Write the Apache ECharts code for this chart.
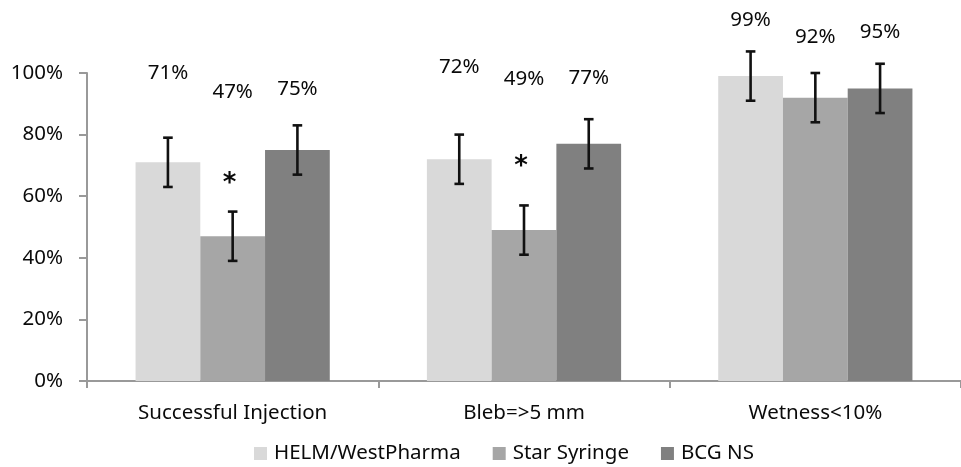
<!DOCTYPE html>
<html>
<head>
<meta charset="utf-8">
<script src="https://cdn.jsdelivr.net/npm/echarts@6/dist/echarts.min.js"></script>
<style>
  html, body { margin: 0; padding: 0; background: #ffffff; }
  #chart { width: 961px; height: 467px; }
</style>
</head>
<body>
<div id="chart"></div>
<script>
// ---- data ----
const categories = ['Successful Injection', 'Bleb=>5 mm', 'Wetness<10%'];
const seriesNames = ['HELM/WestPharma', 'Star Syringe', 'BCG NS'];
const helmValues = [0.71, 0.72, 0.99];
const starValues = [0.47, 0.49, 0.92];
const bcgValues = [0.75, 0.77, 0.95];
const helmErrors = [0.08, 0.08, 0.08];
const starErrors = [0.08, 0.08, 0.08];
const bcgErrors = [0.08, 0.08, 0.08];
const starSignificant = [true, true, false];
const yTickValues = [0, 0.2, 0.4, 0.6, 0.8, 1.0];

// ---- layout ----
// axis level (in value units) where each percentage caption is centred
const captionLevels = [
  [1.000, 1.019, 1.172],
  [0.938, 0.980, 1.117],
  [0.948, 0.984, 1.134]
];
// axis level of the significance asterisk above the Star Syringe bars
const asteriskLevels = [0.660, 0.716, null];
const CATEGORY_GAP = 1 / 3;
const FONT = '"Noto Sans", "Open Sans", sans-serif';
const FONT_SIZE = 20.5;
const TEXT_COLOR = '#0a0a0a';
const AXIS_COLOR = '#999999';
const barColors = ['#d9d9d9', '#a6a6a6', '#808080'];

const valueSets = [helmValues, starValues, bcgValues];
const errorSets = [helmErrors, starErrors, bcgErrors];

function fmtPct(v) { return Math.round(v * 100) + '%'; }

function overlayRenderer(seriesIdx) {
  return function (params, api) {
    const cat = api.value(0);
    const v = api.value(1);
    const e = api.value(2);
    const lv = api.value(3);
    const bandW = api.size([1, 0])[0];
    const barW = bandW * (1 - CATEGORY_GAP) / 3;
    const cx = api.coord([cat, 0])[0] + (seriesIdx - 1) * barW;
    const yHi = api.coord([cat, v + e])[1];
    const yLo = api.coord([cat, v - e])[1];
    const yCap = api.coord([cat, lv])[1];
    const capHalf = 4.8;
    const lineStyle = { stroke: '#111111', lineWidth: 2.6 };
    const children = [
      { type: 'line', shape: { x1: cx, y1: yHi, x2: cx, y2: yLo }, style: lineStyle },
      { type: 'line', shape: { x1: cx - capHalf, y1: yHi, x2: cx + capHalf, y2: yHi }, style: lineStyle },
      { type: 'line', shape: { x1: cx - capHalf, y1: yLo, x2: cx + capHalf, y2: yLo }, style: lineStyle },
      {
        type: 'text',
        style: {
          text: fmtPct(v), x: cx, y: yCap,
          align: 'center', verticalAlign: 'middle',
          font: FONT_SIZE + 'px ' + FONT, fill: TEXT_COLOR
        }
      }
    ];
    if (seriesIdx === 1 && starSignificant[cat]) {
      const ya = api.coord([cat, asteriskLevels[cat]])[1];
      children.push({
        type: 'text',
        style: {
          text: '*', x: cx - 3, y: ya + 7,
          align: 'center', verticalAlign: 'middle',
          font: 'bold 26px "DejaVu Sans", sans-serif', fill: TEXT_COLOR
        }
      });
    }
    return { type: 'group', children: children };
  };
}

const barSeries = seriesNames.map(function (name, i) {
  return {
    name: name,
    type: 'bar',
    data: valueSets[i],
    barGap: '0%',
    barCategoryGap: (CATEGORY_GAP * 100) + '%',
    itemStyle: { color: barColors[i] },
    emphasis: { disabled: true },
    z: 2
  };
});

const overlaySeries = seriesNames.map(function (name, i) {
  return {
    type: 'custom',
    renderItem: overlayRenderer(i),
    clip: false,
    silent: true,
    z: 5,
    data: categories.map(function (c, k) {
      return [k, valueSets[i][k], errorSets[i][k], captionLevels[i][k]];
    })
  };
});

const chart = echarts.init(document.getElementById('chart'), null, { renderer: 'canvas' });
chart.setOption({
  animation: false,
  backgroundColor: '#ffffff',
  grid: { left: 87, right: -11, top: 73, bottom: 86, containLabel: false },
  legend: {
    data: seriesNames,
    left: 254,
    top: 443,
    padding: 0,
    icon: 'rect',
    itemWidth: 13,
    itemHeight: 13,
    itemGap: 32,
    textStyle: { fontFamily: FONT, fontSize: FONT_SIZE, color: TEXT_COLOR, padding: [0, 0, 0, 2] }
  },
  xAxis: {
    type: 'category',
    data: categories,
    axisLine: { lineStyle: { color: AXIS_COLOR, width: 2 } },
    axisTick: { show: true, length: 7, lineStyle: { color: AXIS_COLOR, width: 2 } },
    axisLabel: { fontFamily: FONT, fontSize: FONT_SIZE, color: TEXT_COLOR, margin: 22 }
  },
  yAxis: {
    type: 'value',
    min: yTickValues[0],
    max: yTickValues[yTickValues.length - 1],
    interval: yTickValues[1] - yTickValues[0],
    axisLine: { show: true, lineStyle: { color: AXIS_COLOR, width: 2 } },
    axisTick: { show: true, length: 8, lineStyle: { color: AXIS_COLOR, width: 2 } },
    splitLine: { show: false },
    axisLabel: {
      fontFamily: FONT, fontSize: FONT_SIZE, color: TEXT_COLOR, margin: 24,
      formatter: function (v) { return fmtPct(v); }
    }
  },
  series: barSeries.concat(overlaySeries)
});
</script>
</body>
</html>
